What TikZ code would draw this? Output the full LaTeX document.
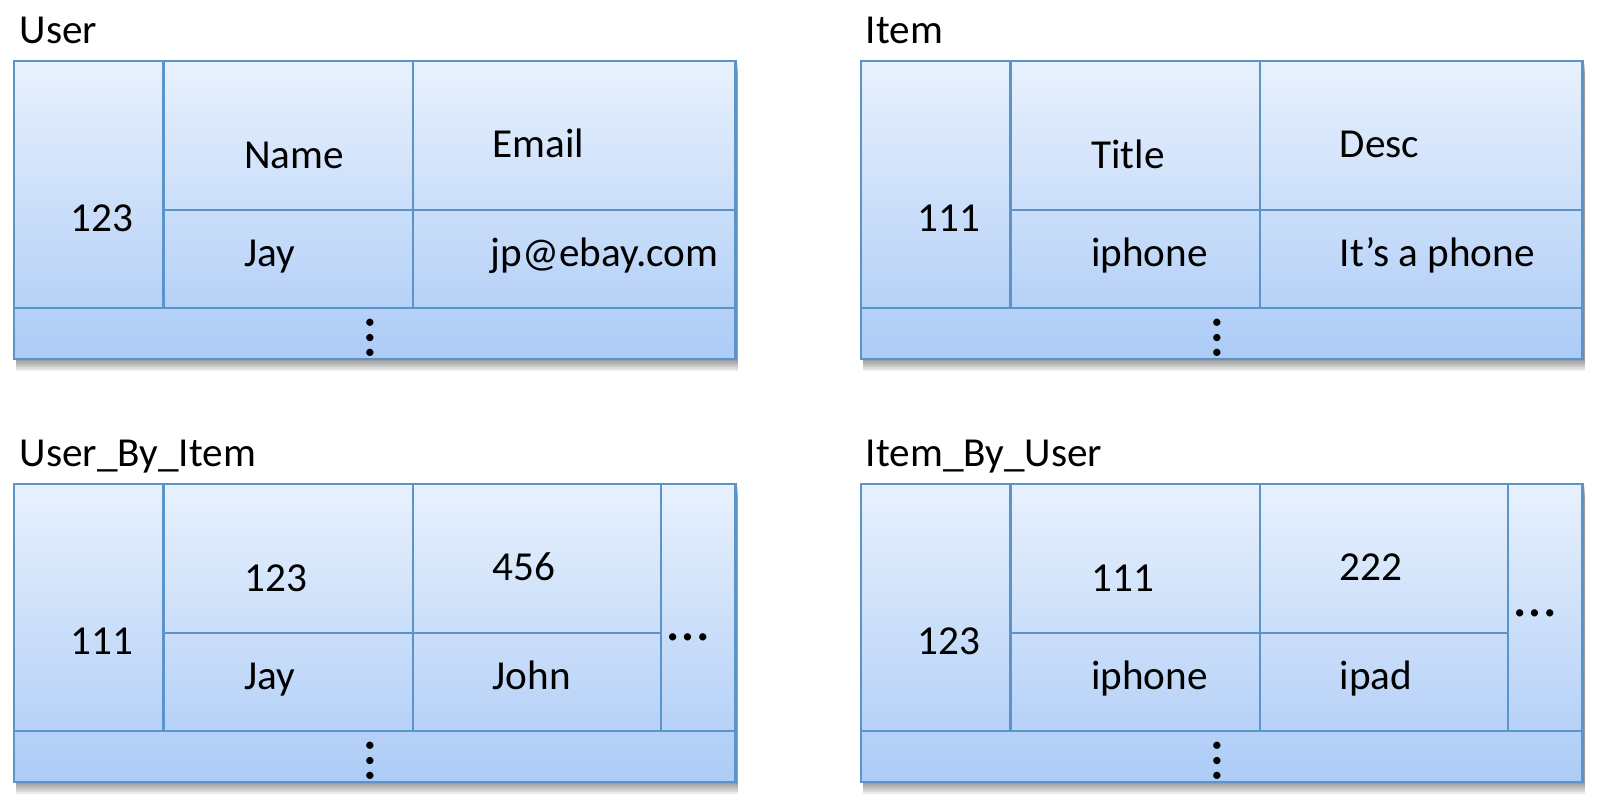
\documentclass[tikz,border=0pt]{standalone}
\usepackage{fontspec}
\setmainfont{Carlito}
\definecolor{cellline}{HTML}{5A94CB}
\definecolor{celltop}{HTML}{E8F1FD}
\definecolor{cellbottom}{HTML}{ACCBF6}

\begin{document}
\begin{tikzpicture}[x=0.25pt, y=-0.25pt,
  titletext/.style={anchor=base west, inner sep=0pt, font=\fontsize{10.3}{12}\selectfont},
  celltext/.style={anchor=base west, inner sep=0pt, font=\fontsize{10.3}{12}\selectfont},
  dotstext/.style={inner sep=0pt, font=\fontsize{15}{15}\selectfont},
  grid/.style={draw=cellline, line width=0.6pt}]

  \useasboundingbox (0,0) rectangle (1600,804);

  \newcommand\tabW{721.5};
  \newcommand\tabH{298};
  \newcommand\colA{149.5};
  \newcommand\colB{399};
  \newcommand\colC{647};
  \newcommand\rowA{149};
  \newcommand\rowB{247};

  %% frames, shadow and common lines
  \foreach \ox/\oy in {14/61, 861/61, 14/484, 861/484} {
    \foreach \s in {1,...,6}
      \fill[black, opacity=0.08] (\ox+2, \oy+2*\s) rectangle ++(\tabW, \tabH);
    \shade[top color=celltop, bottom color=cellbottom] (\ox, \oy) rectangle ++(\tabW, \tabH);
    \draw[grid] (\ox, \oy) rectangle ++(\tabW, \tabH);
    \draw[grid] (\ox, \oy+\rowB) -- ++(\tabW, 0);
    \draw[grid] (\ox+\colA, \oy) -- ++(0, \rowB);
    \draw[grid] (\ox+\colB, \oy) -- ++(0, \rowB);
    \node[dotstext, rotate=90] at (\ox+356, \oy+276.4) {…};
  }

  %% row lines
  \draw[grid] (14+\colA, 61+\rowA) -- (14+\tabW, 61+\rowA);
  \draw[grid] (861+\colA, 61+\rowA) -- (861+\tabW, 61+\rowA);
  \draw[grid] (14+\colA, 484+\rowA) -- (14+\colC, 484+\rowA);
  \draw[grid] (861+\colA, 484+\rowA) -- (861+\colC, 484+\rowA);
  \draw[grid] (14+\colC, 484) -- (14+\colC, 484+\rowB);
  \draw[grid] (861+\colC, 484) -- (861+\colC, 484+\rowB);

  %% User
  \node[titletext] (user) at (19, 43) {User};
  \node[celltext] (user-id) at (69.5, 231.5) {123};
  \node[celltext] (user-name) at (243.5, 168) {Name};
  \node[celltext] (user-email) at (492, 157) {Email};
  \node[celltext] (user-nameval) at (243.5, 266) {Jay};
  \node[celltext] (user-emailval) at (490, 266) {jp@ebay.com};

  %% Item
  \node[titletext] (item) at (865, 43) {Item};
  \node[celltext] (item-id) at (916.5, 231.5) {111};
  \node[celltext] (item-title) at (1090.5, 168) {Title};
  \node[celltext] (item-desc) at (1339, 157) {Desc};
  \node[celltext] (item-titleval) at (1090.5, 266) {iphone};
  \node[celltext] (item-descval) at (1339, 266) {It’s a phone};

  %% User_By_Item
  \node[titletext] (ubi) at (19, 466) {User\_By\_Item};
  \node[celltext] (ubi-id) at (69.5, 654.5) {111};
  \node[celltext] (ubi-a) at (243.5, 591) {123};
  \node[celltext] (ubi-b) at (492, 580) {456};
  \node[celltext] (ubi-aval) at (243.5, 689) {Jay};
  \node[celltext] (ubi-bval) at (492, 689) {John};
  \node[dotstext] (ubi-more) at (14+674, 484+153.3) {…};

  %% Item_By_User
  \node[titletext] (ibu) at (865, 466) {Item\_By\_User};
  \node[celltext] (ibu-id) at (916.5, 654.5) {123};
  \node[celltext] (ibu-a) at (1090.5, 591) {111};
  \node[celltext] (ibu-b) at (1339, 580) {222};
  \node[celltext] (ibu-aval) at (1090.5, 689) {iphone};
  \node[celltext] (ibu-bval) at (1339, 689) {ipad};
  \node[dotstext] (ibu-more) at (861+674, 484+129) {…};
\end{tikzpicture}
\end{document}
